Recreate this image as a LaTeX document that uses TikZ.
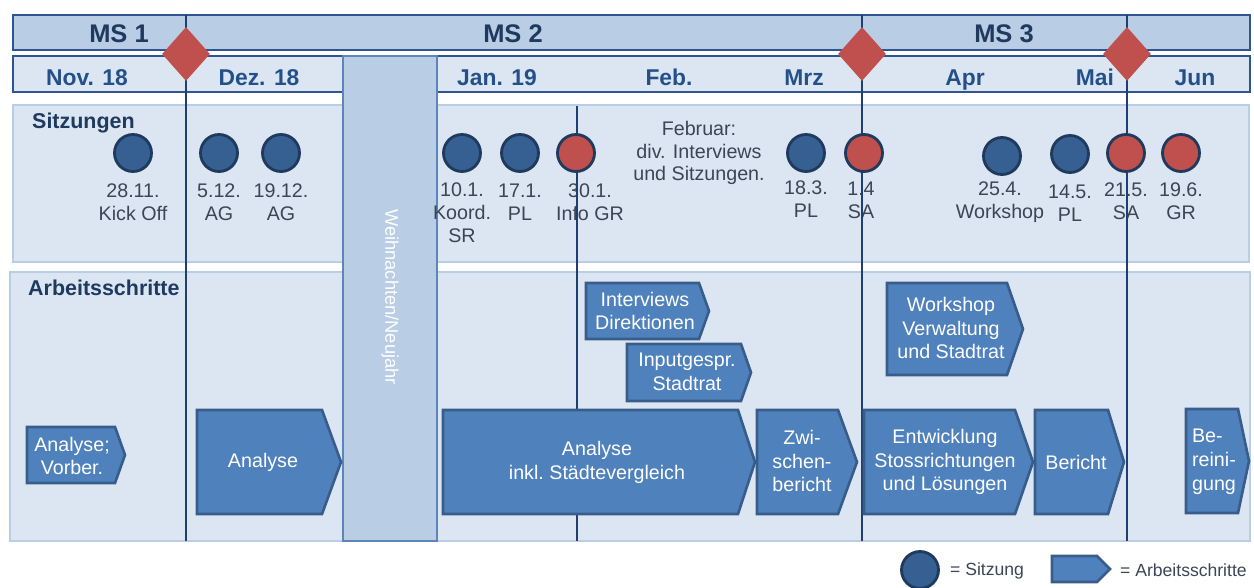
\documentclass[tikz,border=0pt]{standalone}
\usepackage{fontspec}
\setmainfont{Liberation Sans}
\usetikzlibrary{shapes.geometric}
\definecolor{msrow}{HTML}{B9CDE5}
\definecolor{rowfill}{HTML}{DCE6F2}
\definecolor{frame}{HTML}{2F5590}
\definecolor{lineblue}{HTML}{1F3F70}
\definecolor{headtext}{HTML}{1F3A5F}
\definecolor{monthtext}{HTML}{24508A}
\definecolor{datetext}{HTML}{3A4656}
\definecolor{chevfill}{HTML}{4F81BD}
\definecolor{chevdraw}{HTML}{385D8A}
\definecolor{sitzblue}{HTML}{365F92}
\definecolor{sitzdraw}{HTML}{1F3A5C}
\definecolor{sitzred}{HTML}{C0504D}
\definecolor{xmasdraw}{HTML}{5B85BB}

\begin{document}
\begin{tikzpicture}[x=0.2mm, y=-0.2mm,
    panel/.style={fill=rowfill, draw=msrow, line width=0.9pt},
    headrow/.style={draw=frame, line width=1.1pt},
    ms/.style={font=\bfseries\fontsize{14.5}{17}\selectfont, text=headtext, anchor=base},
    month/.style={font=\bfseries\fontsize{13}{15}\selectfont, text=monthtext, anchor=base},
    section/.style={font=\bfseries\fontsize{12.2}{14}\selectfont, text=headtext, anchor=base west},
    datum/.style={font=\fontsize{11.2}{13}\selectfont, text=datetext, align=center},
    sitzung/.style={circle, minimum size=7.4mm, inner sep=0pt, fill=sitzblue, draw=sitzdraw, line width=1.6pt},
    sitzungrot/.style={sitzung, fill=sitzred},
    schritt/.style={fill=chevfill, draw=chevdraw, line width=1.5pt},
    schritttext/.style={font=\fontsize{11.2}{13.6}\selectfont, text=white, align=center},
    msline/.style={draw=lineblue, line width=1.2pt},
    meilenstein/.style={diamond, fill=sitzred, inner sep=0pt, minimum width=9.6mm, minimum height=10.8mm},
    legende/.style={font=\fontsize{10}{12}\selectfont, text=datetext, anchor=west}]
    \useasboundingbox (0,0) rectangle (1254,588);

    % Kopfzeilen: Meilensteine und Monate
    \draw[headrow, fill=msrow] (13,15) rectangle (1250,50);
    \draw[headrow, fill=rowfill] (13,56) rectangle (1250,92);
    \node[ms] (ms1) at (119,42) {MS 1};
    \node[ms] (ms2) at (513,42) {MS 2};
    \node[ms] (ms3) at (1004,42) {MS 3};
    \node[month] (nov) at (87,85) {Nov. 18};
    \node[month] (dez) at (259,85) {Dez. 18};
    \node[month] (jan) at (497,85) {Jan. 19};
    \node[month] (feb) at (669,85) {Feb.};
    \node[month] (mrz) at (804,85) {Mrz};
    \node[month] (apr) at (965,85) {Apr};
    \node[month] (mai) at (1095,85) {Mai};
    \node[month] (jun) at (1195,85) {Jun};

    % Bereiche
    \draw[panel] (13,105) rectangle (1249,262);
    \draw[panel] (10,272) rectangle (1250,541);
    \node[section] (sitz) at (26,128) {Sitzungen};
    \node[section] (arb) at (22,295) {Arbeitsschritte};

    % Weihnachtspause
    \draw[fill=msrow, draw=xmasdraw, line width=0.8pt] (343,56) rectangle (437,541);
    \node[rotate=-90, text=white, font=\fontsize{10.4}{12}\selectfont] (xmas) at (390,297) {Weihnachten/Neujahr};

    % Beschriftung der Sitzungen
    \node[datum] (d2811) at (133,202) {28.11.\\Kick Off};
    \node[datum] (d0512) at (219,202) {5.12.\\AG};
    \node[datum] (d1912) at (281,202) {19.12.\\AG};
    \node[datum] (d1001) at (462,213) {10.1.\\Koord.\\SR};
    \node[datum] (d1701) at (520,202) {17.1.\\PL};
    \node[datum] (d3001) at (590,202) {30.1.\\Info GR};
    \node[datum] (febtxt) at (699,153) {Februar:\\div. Interviews\\und Sitzungen.};
    \node[datum] (d1803) at (806,199) {18.3.\\PL};
    \node[datum] (d0104) at (861,200) {1.4\\SA};
    \node[datum] (d2504) at (1000,202) {25.4.\\Workshop};
    \node[datum] (d1405) at (1070,203) {14.5.\\PL};
    \node[datum] (d2105) at (1126,201) {21.5.\\SA};
    \node[datum] (d1906) at (1181,201) {19.6.\\GR};

    % Meilensteinlinien
    \draw[msline] (186,15) -- (186,541);
    \draw[msline] (577,106) -- (577,541);
    \draw[msline] (862,15) -- (862,541);
    \draw[msline] (1127,15) -- (1127,541);

    % Sitzungen
    \node[sitzung] (s2811) at (133,153) {};
    \node[sitzung] (s0512) at (219,153) {};
    \node[sitzung] (s1912) at (281,153) {};
    \node[sitzung] (s1001) at (462,153) {};
    \node[sitzung] (s1701) at (520,153) {};
    \node[sitzungrot] (s3001) at (576,153) {};
    \node[sitzung] (s1803) at (806,153) {};
    \node[sitzungrot] (s0104) at (864,153) {};
    \node[sitzung] (s2504) at (1002,156) {};
    \node[sitzung] (s1405) at (1070,154) {};
    \node[sitzungrot] (s2105) at (1126,153) {};
    \node[sitzungrot] (s1906) at (1181,153) {};

    % Arbeitsschritte
    \draw[schritt] (27,427) -- (115,427) -- (125,455) -- (115,483) -- (27,483) -- cycle;
    \node[schritttext] (vorber) at (72,456) {Analyse;\\Vorber.};
    \draw[schritt] (197,410) -- (322,410) -- (341,462) -- (322,514) -- (197,514) -- cycle;
    \node[schritttext] (analyse1) at (263,462) {Analyse};
    \draw[schritt] (443,410) -- (738,410) -- (755,462) -- (738,514) -- (443,514) -- cycle;
    \node[schritttext] (analyse2) at (597,462) {Analyse\\inkl.\ Städtevergleich};
    \draw[schritt] (757,410) -- (838,410) -- (857,462) -- (838,514) -- (757,514) -- cycle;
    \node[schritttext] (zwischen) at (802,461) {Zwi-\\schen-\\bericht};
    \draw[schritt] (586,283) -- (699,283) -- (709,311) -- (699,339) -- (586,339) -- cycle;
    \node[schritttext] (interviews) at (645,311) {Interviews\\Direktionen};
    \draw[schritt] (627,344) -- (741,344) -- (751,372.5) -- (741,401) -- (627,401) -- cycle;
    \node[schritttext] (input) at (687,372) {Inputgespr.\\Stadtrat};
    \draw[schritt] (887,283) -- (1007,283) -- (1023,329) -- (1007,375) -- (887,375) -- cycle;
    \node[schritttext] (workshop) at (951,328) {Workshop\\Verwaltung\\und Stadtrat};
    \draw[schritt] (864,410) -- (1015,410) -- (1033,462) -- (1015,514) -- (864,514) -- cycle;
    \node[schritttext] (entwicklung) at (945,462) {Entwicklung\\Stossrichtungen\\und Lösungen};
    \draw[schritt] (1035,410) -- (1108,410) -- (1124,462) -- (1108,514) -- (1035,514) -- cycle;
    \node[schritttext] (bericht) at (1076,462) {Bericht};
    \draw[schritt] (1186,409) -- (1238,409) -- (1249,461) -- (1238,513) -- (1186,513) -- cycle;
    \node[schritttext, align=left] (bereinigung) at (1214,462) {Be-\\reini-\\gung};

    % Meilensteine
    \node[meilenstein] (m1) at (186,54) {};
    \node[meilenstein] (m2) at (862,54) {};
    \node[meilenstein] (m3) at (1127,54) {};

    % Legende
    \node[sitzung] (legsitz) at (920,570) {};
    \node[legende] (legsitztxt) at (944,571) {= Sitzung};
    \draw[schritt] (1052,556) -- (1097,556) -- (1110,569) -- (1097,582) -- (1052,582) -- cycle;
    \node[legende] (legschritttxt) at (1114,570) {= Arbeitsschritte};
\end{tikzpicture}
\end{document}
